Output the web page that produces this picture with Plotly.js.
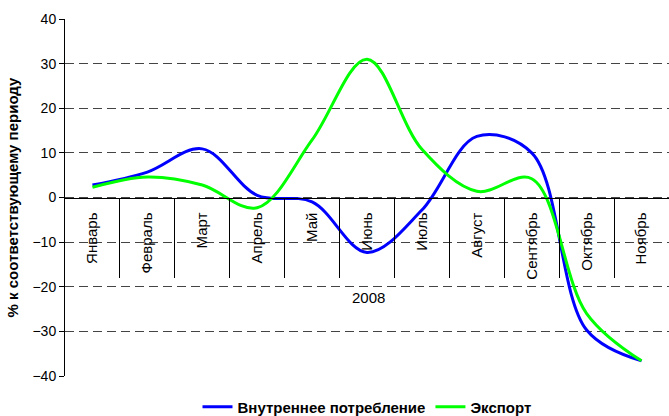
<!DOCTYPE html>
<html><head><meta charset="utf-8">
<script src="https://cdn.plot.ly/plotly-3.0.1.min.js"></script>
<style>html,body{margin:0;padding:0;background:#fff}#chart{width:669px;height:416px}</style>
</head><body><div id="chart"></div>
<script>
const months = ["Январь","Февраль","Март","Апрель","Май","Июнь","Июль","Август","Сентябрь","Октябрь","Ноябрь"];
const domestic = [2.8, 5.7, 10.9, 0.5, -1.0, -12.3, -2.8, 13.7, 10.0, -29.7, -36.6];
const exportVals = [2.3, 4.6, 2.8, -2.3, 12.9, 31.0, 10.8, 1.4, 4.2, -26.0, -36.6];
const yearLabel = "2008";
const seriesNames = ["Внутреннее потребление", "Экспорт"];
const yTitle = "% к соответствующему периоду";

const font = "Liberation Sans, Arial, sans-serif";
const traces = [
  {x: months, y: domestic, name: seriesNames[0], type: "scatter", mode: "lines",
   line: {color: "#0000FF", width: 3, shape: "spline", smoothing: 1}},
  {x: months, y: exportVals, name: seriesNames[1], type: "scatter", mode: "lines",
   line: {color: "#00FF00", width: 3, shape: "spline", smoothing: 1}},
  {x: months, y: months.map(() => null), xaxis: "x2", type: "scatter", mode: "lines",
   showlegend: false, hoverinfo: "skip"}
];
const layout = {
  width: 669, height: 416,
  margin: {l: 65, r: 0, t: 19, b: 40, autoexpand: false},
  paper_bgcolor: "#fff", plot_bgcolor: "#fff",
  font: {family: font, size: 14, color: "#000"},
  showlegend: true,
  legend: {orientation: "h", x: 0.5, xanchor: "center", y: -0.087, yanchor: "middle",
           font: {family: font, size: 15, color: "#000", weight: "bold"}},
  xaxis: {type: "category", categoryorder: "array", categoryarray: months,
          range: [-0.5, 10.5], anchor: "free", position: 0.5, automargin: false,
          showgrid: false, showline: true, linecolor: "#000", linewidth: 1,
          ticks: "", tickangle: -90, ticklabelstandoff: 8,
          tickfont: {family: font, size: 15, color: "#000"}},
  xaxis2: {type: "category", categoryorder: "array", categoryarray: months,
           range: [-0.5, 10.5], overlaying: "x", side: "top", anchor: "free", position: 0.5,
           showgrid: false, showline: false, ticks: "inside", ticklen: 79, tickwidth: 1,
           tickcolor: "#000", tickson: "boundaries", showticklabels: false},
  yaxis: {range: [-40, 40], dtick: 10, tick0: 0, showline: true, linecolor: "#000", linewidth: 1,
          ticks: "outside", ticklen: 5, tickcolor: "#000", zeroline: false, automargin: false,
          gridcolor: "#444", griddash: "9px,5px", gridwidth: 1,
          tickfont: {family: font, size: 14, color: "#000"},
          title: {text: yTitle, font: {family: font, size: 15, color: "#000", weight: "bold"}, standoff: 10}},
  annotations: [
    {text: yearLabel, xref: "paper", yref: "paper", x: 0.503, y: 0.221, showarrow: false,
     font: {family: font, size: 15, color: "#000"}, xanchor: "center", yanchor: "middle"}
  ]
};
Plotly.newPlot("chart", traces, layout, {staticPlot: true, displayModeBar: false});
</script></body></html>
